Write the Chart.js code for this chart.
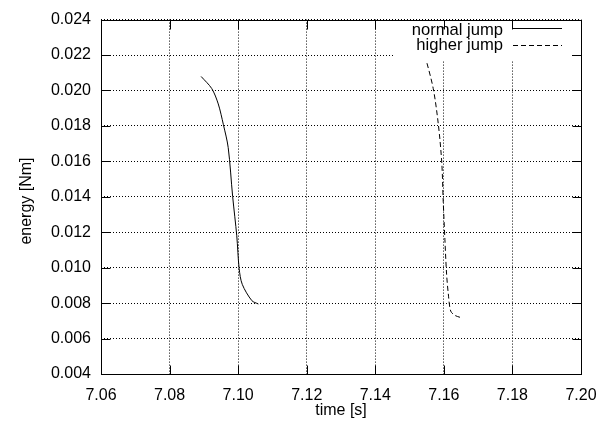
<!DOCTYPE html>
<html>
<head>
<meta charset="utf-8">
<script src="https://cdn.jsdelivr.net/npm/chart.js@4"></script>
<style>
  html, body { margin: 0; padding: 0; background: #fff; }
  #wrap { width: 611px; height: 431px; }
</style>
</head>
<body>
<div id="wrap"><canvas id="energy-chart" width="611" height="431"></canvas></div>
<script>
const seriesNames = ["normal jump", "higher jump"];

const normalTime = [7.0892, 7.0923, 7.0942, 7.0957, 7.0971, 7.0984, 7.0996, 7.1003, 7.1012, 7.1040, 7.1059];
const normalEnergy = [0.02079, 0.02011, 0.01924, 0.01807, 0.01678, 0.01401, 0.0118, 0.00994, 0.00906, 0.00814, 0.00795];

const higherTime = [7.1537, 7.1545, 7.1569, 7.1584, 7.1594, 7.1598, 7.1603, 7.1608, 7.1613, 7.162, 7.1633, 7.1647];
const higherEnergy = [0.0224, 0.02195, 0.02011, 0.01807, 0.01591, 0.01382, 0.01161, 0.00963, 0.00852, 0.00755, 0.0073, 0.0072];

const xTicks = [7.06, 7.08, 7.10, 7.12, 7.14, 7.16, 7.18, 7.20];
const yTicks = [0.004, 0.006, 0.008, 0.010, 0.012, 0.014, 0.016, 0.018, 0.020, 0.022, 0.024];

const FONT = "'Liberation Sans', Arial, sans-serif";

const toPoints = (xs, ys) => xs.map((x, i) => ({ x: x, y: ys[i] }));

// white key box, legend, frame and inward ticks like gnuplot
const framePlugin = {
  id: "frame",
  afterDatasetsDraw(chart) {
    const ctx = chart.ctx;
    const area = chart.chartArea;
    const xs = chart.scales.x;
    const ys = chart.scales.y;
    const L = Math.round(area.left) + 0.5;
    const R = Math.round(area.right) + 0.5;
    const T = Math.round(area.top) + 0.5;
    const B = Math.round(area.bottom) + 0.5;

    ctx.save();
    // key box
    ctx.fillStyle = "#fff";
    ctx.fillRect(393, T + 0.5, 178, 40);

    ctx.font = "16.6px " + FONT;
    ctx.fillStyle = "#000";
    ctx.textAlign = "right";
    ctx.textBaseline = "middle";
    ctx.fillText(seriesNames[0], 503, 30);
    ctx.fillText(seriesNames[1], 503, 45);

    ctx.strokeStyle = "#000";
    ctx.lineWidth = 1;
    ctx.beginPath();
    ctx.moveTo(513, 28.5);
    ctx.lineTo(562, 28.5);
    ctx.stroke();
    ctx.setLineDash([5, 3]);
    ctx.beginPath();
    ctx.moveTo(513, 45.5);
    ctx.lineTo(562, 45.5);
    ctx.stroke();
    ctx.setLineDash([]);

    // inward ticks
    const tl = 9;
    ctx.beginPath();
    xTicks.forEach((v) => {
      const p = Math.round(xs.getPixelForValue(v)) + 0.5;
      ctx.moveTo(p, B);
      ctx.lineTo(p, B - tl);
      ctx.moveTo(p, T);
      ctx.lineTo(p, T + tl);
    });
    yTicks.forEach((v) => {
      const p = Math.round(ys.getPixelForValue(v)) + 0.5;
      ctx.moveTo(L, p);
      ctx.lineTo(L + tl, p);
      ctx.moveTo(R, p);
      ctx.lineTo(R - tl, p);
    });
    ctx.stroke();

    ctx.strokeRect(L, T, R - L, B - T);

    // y axis title, centred on the canvas height like gnuplot does
    ctx.translate(27, 201);
    ctx.rotate(-Math.PI / 2);
    ctx.font = "16px " + FONT;
    ctx.textAlign = "center";
    ctx.fillText("energy [Nm]", 0, 0);
    ctx.restore();
  },
};

const energyCanvas = document.getElementById("energy-chart");

const energyData = {
  datasets: [
    {
      label: seriesNames[0],
      data: toPoints(normalTime, normalEnergy),
      borderColor: "#000",
      borderWidth: 1,
      showLine: true,
      pointRadius: 0,
      tension: 0.3,
    },
    {
      label: seriesNames[1],
      data: toPoints(higherTime, higherEnergy),
      borderColor: "#000",
      borderWidth: 1,
      borderDash: [5, 3],
      showLine: true,
      pointRadius: 0,
      tension: 0.3,
    },
  ],
};

const energyOptions = {
  responsive: false,
  animation: false,
  layout: {
    padding: { top: 13, right: 30, left: 0, bottom: 0 },
  },
  plugins: {
    legend: { display: false },
    tooltip: { enabled: false },
  },
  scales: {
    x: {
      type: "linear",
      min: 7.06,
      max: 7.2,
      afterBuildTicks: (scale) => {
        scale.ticks = xTicks.map((v) => ({ value: v }));
      },
      afterFit: (scale) => {
        scale.height = 57;
      },
      ticks: {
        color: "#000",
        font: { family: FONT, size: 16 },
        padding: 12,
        maxRotation: 0,
        callback: (v) => Number(v).toFixed(2),
      },
      grid: {
        color: "#000",
        lineWidth: 1,
        drawTicks: false,
      },
      border: { display: false, dash: [1, 2] },
      title: {
        display: true,
        text: "time [s]",
        color: "#000",
        font: { family: FONT, size: 16 },
        padding: { top: 0, bottom: 11 },
      },
    },
    y: {
      type: "linear",
      min: 0.004,
      max: 0.024,
      afterBuildTicks: (scale) => {
        scale.ticks = yTicks.map((v) => ({ value: v }));
      },
      afterFit: (scale) => {
        scale.width = 101;
      },
      ticks: {
        color: "#000",
        font: { family: FONT, size: 16 },
        padding: 10,
        callback: (v) => Number(v).toFixed(3),
      },
      grid: {
        color: "#000",
        lineWidth: 1,
        drawTicks: false,
      },
      border: { display: false, dash: [1, 2] },
    },
  },
};

let energyChart = new Chart(energyCanvas, {
  type: "scatter",
  data: energyData,
  options: energyOptions,
  plugins: [framePlugin],
});
</script>
</body>
</html>
